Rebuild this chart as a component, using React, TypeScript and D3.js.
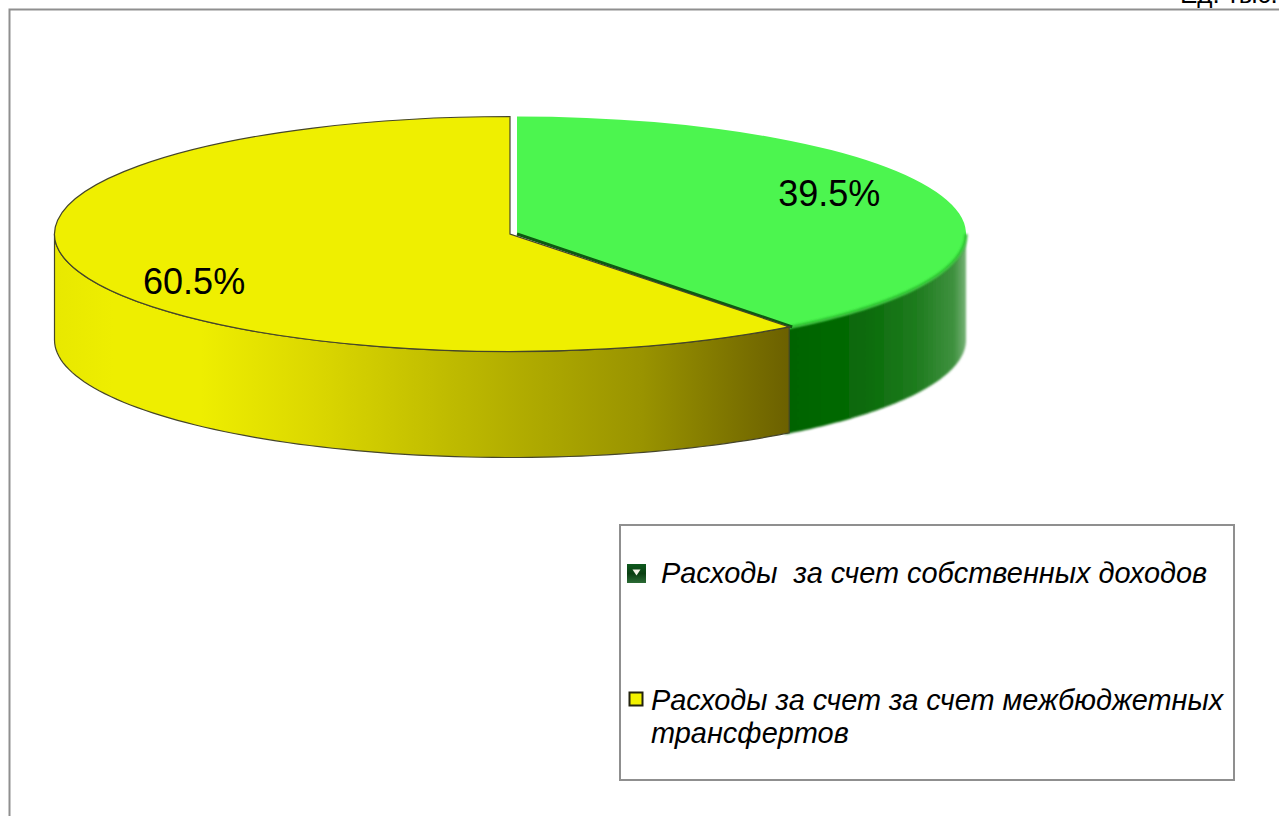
import React from "react";
import * as d3 from "d3";

const categories = ["Расходы  за счет собственных доходов", "Расходы за счет за счет межбюджетных трансфертов"];
const values = [39.5, 60.5];
const valueLabels = ["39.5%", "60.5%"];
const legendLines = [["Расходы  за счет собственных доходов"], ["Расходы за счет за счет межбюджетных", "трансфертов"]];
const unitText = "Ед. тыс.";

const W = 1279, H = 816;
const depth = 106, cy = 234, ry = 117.5;
const geom = [
  { cx: 517, rx: 449, top: "#4cf54f", side: "url(#gSide)", stroke: "none" },
  { cx: 510, rx: 455.5, top: "#efef00", side: "url(#ySide)", stroke: "#45452a" },
];
const labelPos = [{ fx: 0.735, dy: -41 }, { fx: 0.733, dy: 47 }];

const pie = d3.pie<number>().sort(null).startAngle(0).endAngle(2 * Math.PI);
const arcs = pie(values);

export default function App() {
  const sidePath = (i: number, overlap: number) => {
    const g = geom[i];
    const a0 = Math.max(arcs[i].startAngle, Math.PI / 2);
    const a1 = Math.min(arcs[i].endAngle + overlap, (3 * Math.PI) / 2);
    const angle = d3.scaleLinear().domain([0, 1]).range([a0, a1]);
    const ts = d3.range(0, 1.0001, 1 / 80);
    const line = d3.line<[number, number]>();
    const topEdge = ts.map((t) => [g.cx + g.rx * Math.sin(angle(t)), cy - ry * Math.cos(angle(t))] as [number, number]);
    const bottomEdge = topEdge.map(([x, y]) => [x, y + depth] as [number, number]).reverse();
    return { full: line([...topEdge, ...bottomEdge]) + "Z", top: line(topEdge) as string };
  };
  const topArc = (i: number) => {
    const g = geom[i];
    const gen = d3.arc<d3.PieArcDatum<number>>().innerRadius(0).outerRadius(g.rx);
    return { d: gen(arcs[i]) as string, tf: `translate(${g.cx},${cy}) scale(1,${ry / g.rx})` };
  };
  const yellowSide = sidePath(1, 0), greenSide = sidePath(0, 0.02);
  const yt = topArc(1), gt = topArc(0);
  const greenCut = arcs[0].endAngle;
  const fontFam = "'Liberation Sans', Arial, sans-serif";

  return (
    <svg width={W} height={H} viewBox={`0 0 ${W} ${H}`} style={{ position: "absolute", left: 0, top: 0, background: "#fff" }}>
      <defs>
        <linearGradient id="ySide" gradientUnits="userSpaceOnUse" x1={54} x2={790} y1={0} y2={0}>
          <stop offset="0" stopColor="#e8e800" />
          <stop offset="0.08" stopColor="#eeee00" />
          <stop offset="0.2" stopColor="#eeee00" />
          <stop offset="0.35" stopColor="#dcd800" />
          <stop offset="0.55" stopColor="#bdb900" />
          <stop offset="0.8" stopColor="#999300" />
          <stop offset="1" stopColor="#6b6000" />
        </linearGradient>
        <linearGradient id="gSide" gradientUnits="userSpaceOnUse" x1={790} x2={968} y1={0} y2={0}>
          <stop offset="0" stopColor="#006400" />
          <stop offset="0.4" stopColor="#086a08" />
          <stop offset="0.72" stopColor="#207c20" />
          <stop offset="0.92" stopColor="#3f913f" />
          <stop offset="1" stopColor="#80b880" />
        </linearGradient>
        <linearGradient id="gSwatch" x1="0" x2="0" y1="0" y2="1">
          <stop offset="0" stopColor="#0e5a1e" />
          <stop offset="0.5" stopColor="#0a3f12" />
          <stop offset="1" stopColor="#2b6b35" />
        </linearGradient>
        <filter id="soft" x="-5%" y="-5%" width="110%" height="110%">
          <feGaussianBlur stdDeviation="0.8" />
        </filter>
      </defs>

      <path d={`M9.5 ${H}V9.5H${W}`} fill="none" stroke="#8f8f8f" strokeWidth={2} />
      <text x={1180} y={3} fontFamily={fontFam} fontSize={26} fill="#000">{unitText}</text>

      <path d={greenSide.full} fill={geom[0].side} filter="url(#soft)" />
      <path d={gt.d} transform={gt.tf} fill={geom[0].top} />
      <path d={greenSide.top} fill="none" stroke="#2cc02f" strokeWidth={3} filter="url(#soft)" />
      <path d={d3.line()([[geom[0].cx, cy], [geom[0].cx + geom[0].rx * Math.sin(greenCut), cy - ry * Math.cos(greenCut)]]) as string} stroke="#0d5a10" strokeWidth={3} fill="none" />

      <path d={yellowSide.full} fill={geom[1].side} stroke={geom[1].stroke} strokeWidth={1.2} />
      <path d={yt.d} transform={yt.tf} fill={geom[1].top} stroke={geom[1].stroke} strokeWidth={1.2} vectorEffect="non-scaling-stroke" />

      {arcs.map((a, i) => {
        const m = (a.startAngle + a.endAngle) / 2;
        const x = geom[i].cx + geom[i].rx * labelPos[i].fx * Math.sin(m);
        return (
          <text key={i} x={x} y={cy + labelPos[i].dy + 13} textAnchor="middle" fontFamily={fontFam} fontSize={36} fill="#000">
            {valueLabels[i]}
          </text>
        );
      })}

      <rect x={620} y={525} width={614} height={255} fill="#fff" stroke="#8f8f8f" strokeWidth={2} />
      <rect x={627} y={564} width={19} height={19} fill="url(#gSwatch)" />
      <path d="M632.5 569.5h8l-4 6z" fill="#f4f4e8" />
      <rect x={629.5} y={692.5} width={13} height={13} fill="#f2f200" stroke="#23230f" strokeWidth={2} />
      <text x={661} y={583} fontFamily={fontFam} fontStyle="italic" fontSize={28.9} fill="#000" xmlSpace="preserve" aria-label={categories[0]}>{legendLines[0][0]}</text>
      {legendLines[1].map((l, i) => (
        <text key={i} x={651} y={710 + i * 33} fontFamily={fontFam} fontStyle="italic" fontSize={28.9} fill="#000">{l}</text>
      ))}
    </svg>
  );
}
